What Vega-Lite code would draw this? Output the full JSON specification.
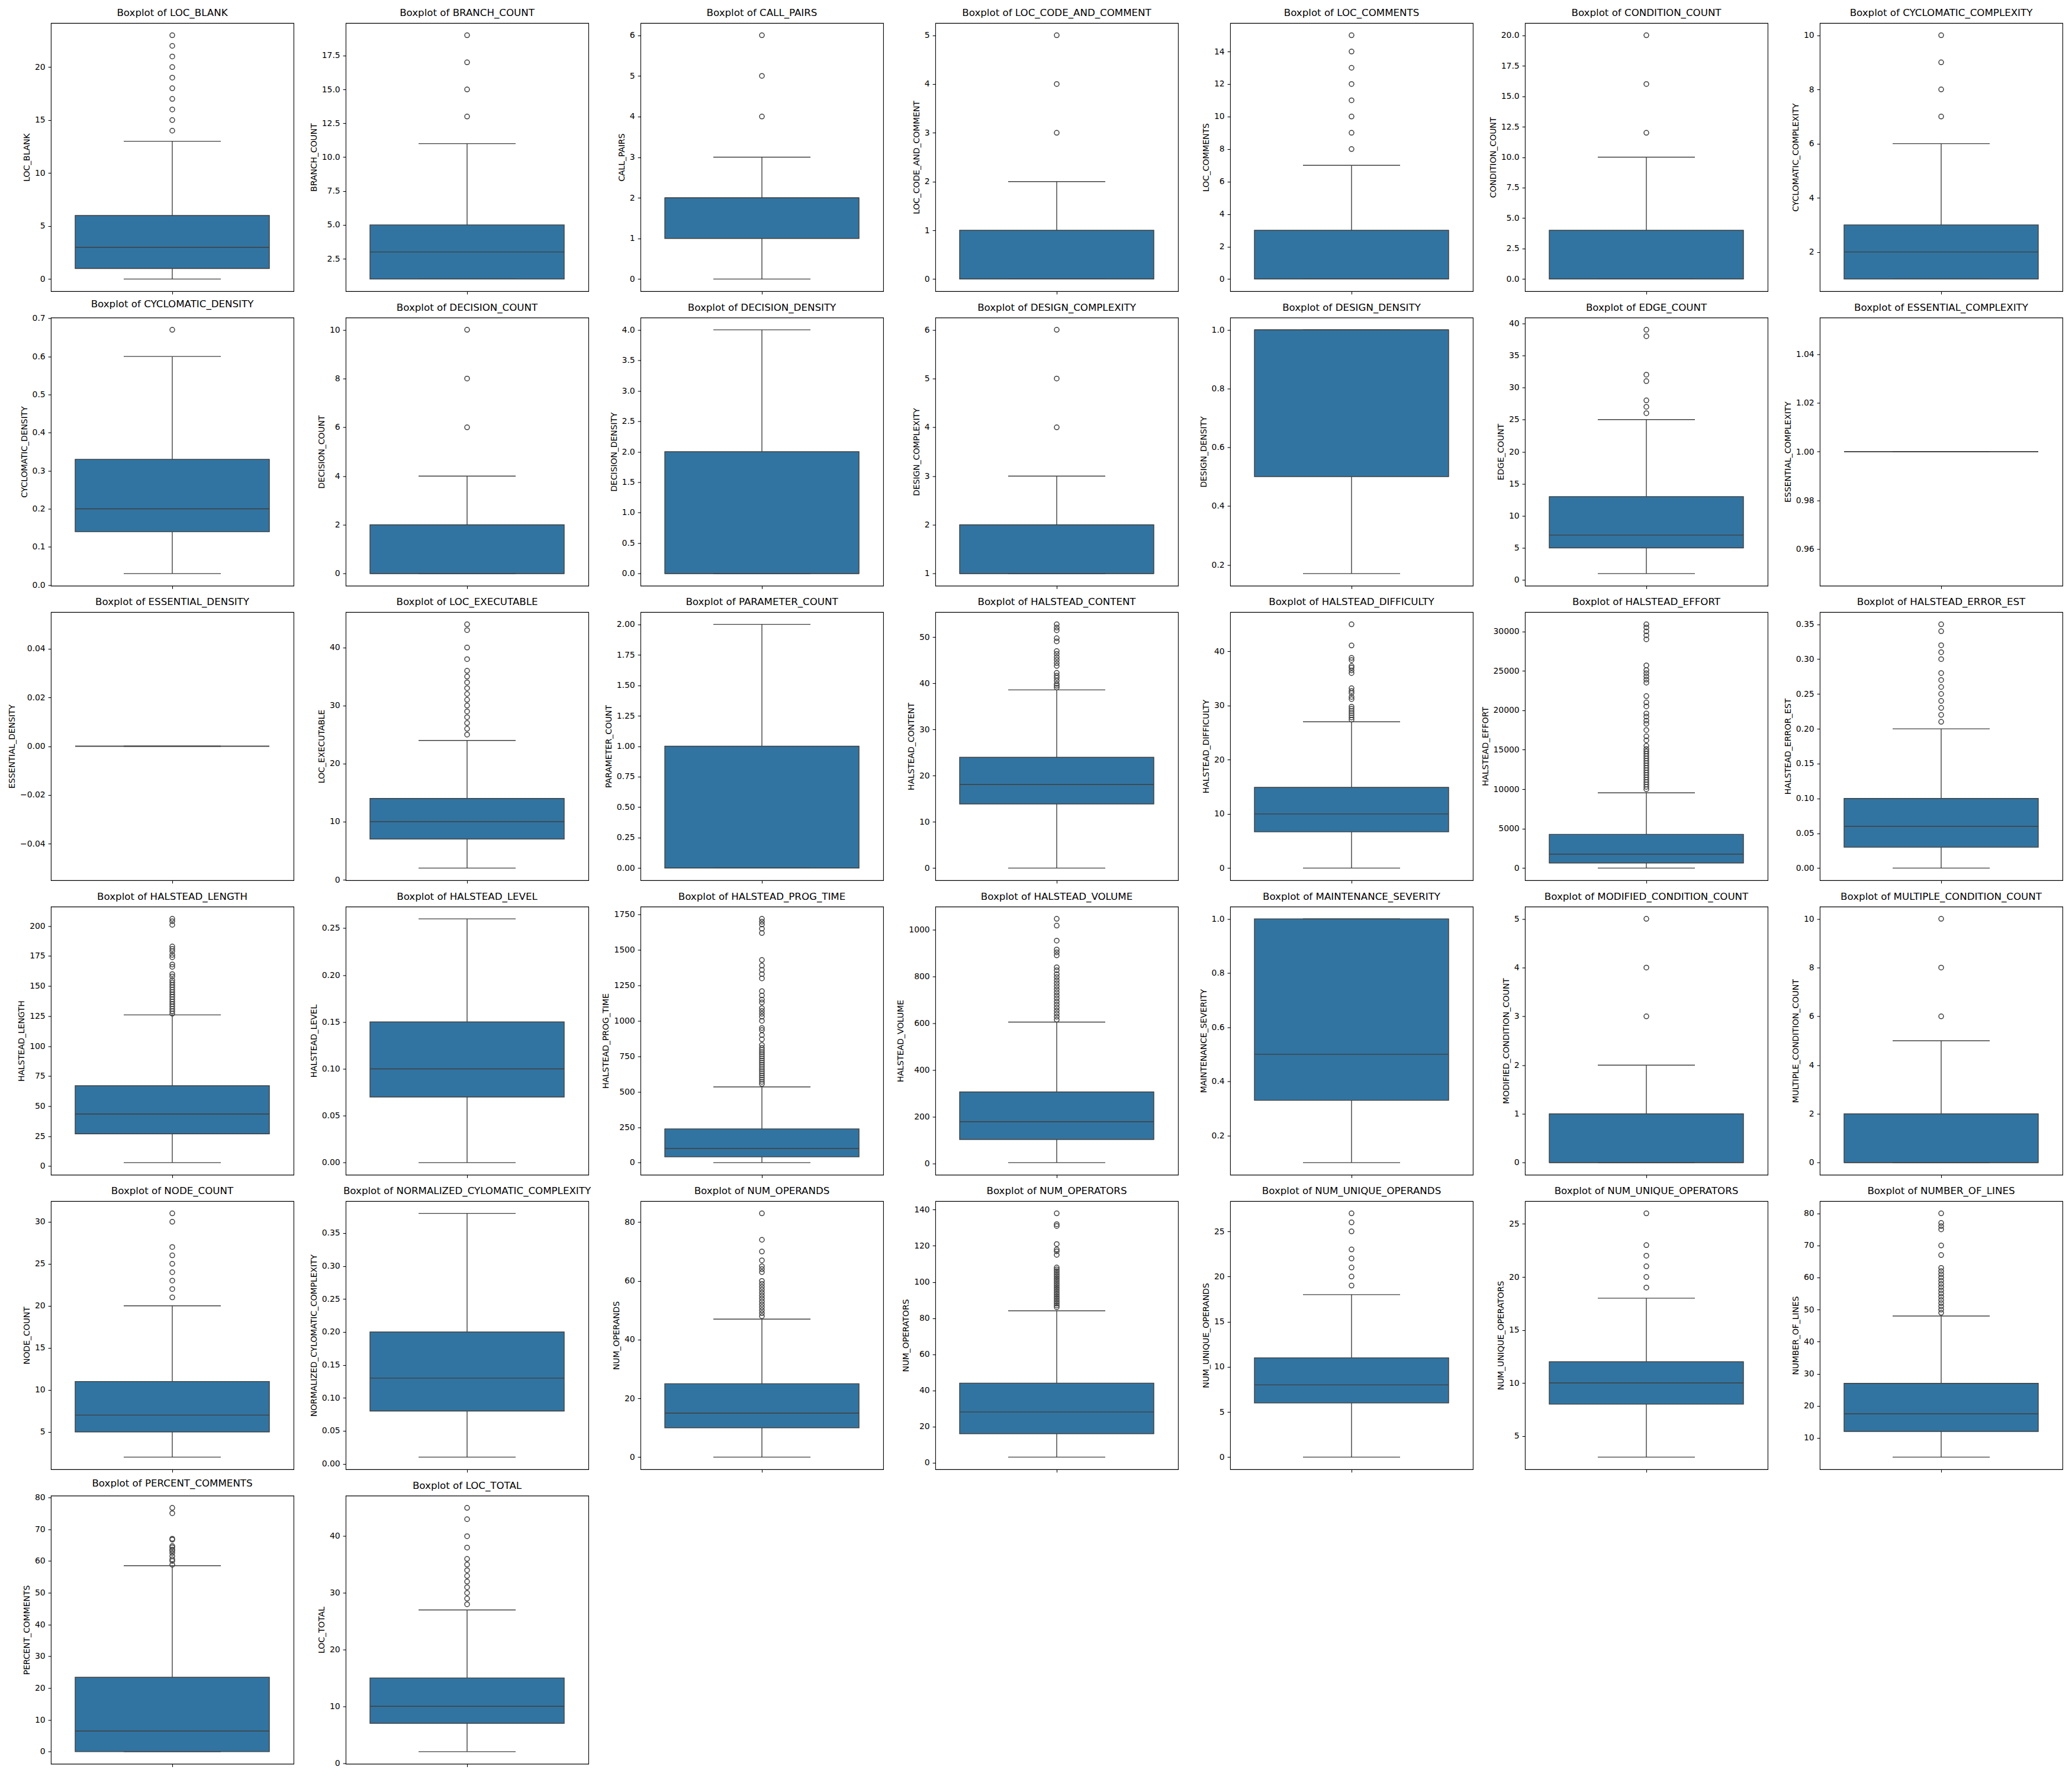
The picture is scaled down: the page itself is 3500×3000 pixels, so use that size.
{
"$schema":"https://vega.github.io/schema/vega-lite/v6.json",
"background":"white",
"padding":{"left":13,"top":13,"right":5,"bottom":5},
"columns":7,
"bounds":"flush",
"spacing":{"row":44.5,"column":88},
"config":{
"font":"DejaVu Sans",
"view":{"stroke":"#000000","strokeWidth":1.1},
"title":{"font":"DejaVu Sans","fontSize":16.67,"fontWeight":"normal","color":"#000000","offset":8,"frame":"group","anchor":"middle"},
"axis":{"labelFont":"DejaVu Sans","labelFontSize":13.9,"labelColor":"#000000","tickColor":"#000000","tickSize":4.9,"tickWidth":1.1,"labelPadding":4.9,"titleFont":"DejaVu Sans","titleFontSize":13.9,"titleFontWeight":"normal","titleColor":"#000000","titlePadding":6,"grid":false,"domain":false,"labelFlush":false,"labelOverlap":false},
"scale":{"bandPaddingInner":0,"bandPaddingOuter":0},
"mark":{"opacity":1},
"rule":{"color":"#3f3f3f","strokeWidth":1.4},
"bar":{"color":"#3274a1","stroke":"#3f3f3f","strokeWidth":1.4},
"tick":{"color":"#3f3f3f","thickness":1.4,"opacity":1},
"point":{"filled":false,"shape":"circle","size":64,"strokeWidth":1.5,"color":"#3f3f3f","opacity":1}
},
"datasets":{
"s":[
{"v":"LOC_BLANK","lo":0,"q1":1,"med":3,"q3":6,"hi":13},
{"v":"BRANCH_COUNT","lo":1,"q1":1,"med":3,"q3":5,"hi":11},
{"v":"CALL_PAIRS","lo":0,"q1":1,"med":2,"q3":2,"hi":3},
{"v":"LOC_CODE_AND_COMMENT","lo":0,"q1":0,"med":0,"q3":1,"hi":2},
{"v":"LOC_COMMENTS","lo":0,"q1":0,"med":0,"q3":3,"hi":7},
{"v":"CONDITION_COUNT","lo":0,"q1":0,"med":0,"q3":4,"hi":10},
{"v":"CYCLOMATIC_COMPLEXITY","lo":1,"q1":1,"med":2,"q3":3,"hi":6},
{"v":"CYCLOMATIC_DENSITY","lo":0.03,"q1":0.14,"med":0.2,"q3":0.33,"hi":0.6},
{"v":"DECISION_COUNT","lo":0,"q1":0,"med":0,"q3":2,"hi":4},
{"v":"DECISION_DENSITY","lo":0,"q1":0,"med":0,"q3":2,"hi":4},
{"v":"DESIGN_COMPLEXITY","lo":1,"q1":1,"med":1,"q3":2,"hi":3},
{"v":"DESIGN_DENSITY","lo":0.17,"q1":0.5,"med":1,"q3":1,"hi":1},
{"v":"EDGE_COUNT","lo":1,"q1":5,"med":7,"q3":13,"hi":25},
{"v":"ESSENTIAL_COMPLEXITY","lo":1,"q1":1,"med":1,"q3":1,"hi":1},
{"v":"ESSENTIAL_DENSITY","lo":0,"q1":0,"med":0,"q3":0,"hi":0},
{"v":"LOC_EXECUTABLE","lo":2,"q1":7,"med":10,"q3":14,"hi":24},
{"v":"PARAMETER_COUNT","lo":0,"q1":0,"med":0,"q3":1,"hi":2},
{"v":"HALSTEAD_CONTENT","lo":0,"q1":13.9,"med":18.1,"q3":24,"hi":38.6},
{"v":"HALSTEAD_DIFFICULTY","lo":0,"q1":6.7,"med":10,"q3":14.9,"hi":27},
{"v":"HALSTEAD_EFFORT","lo":0,"q1":650,"med":1780,"q3":4280,"hi":9540},
{"v":"HALSTEAD_ERROR_EST","lo":0,"q1":0.03,"med":0.06,"q3":0.1,"hi":0.2},
{"v":"HALSTEAD_LENGTH","lo":3,"q1":27,"med":43.5,"q3":67,"hi":126},
{"v":"HALSTEAD_LEVEL","lo":0,"q1":0.07,"med":0.1,"q3":0.15,"hi":0.26},
{"v":"HALSTEAD_PROG_TIME","lo":0,"q1":41,"med":100,"q3":238,"hi":534},
{"v":"HALSTEAD_VOLUME","lo":5,"q1":104,"med":180,"q3":307,"hi":605},
{"v":"MAINTENANCE_SEVERITY","lo":0.1,"q1":0.33,"med":0.5,"q3":1,"hi":1},
{"v":"MODIFIED_CONDITION_COUNT","lo":0,"q1":0,"med":0,"q3":1,"hi":2},
{"v":"MULTIPLE_CONDITION_COUNT","lo":0,"q1":0,"med":0,"q3":2,"hi":5},
{"v":"NODE_COUNT","lo":2,"q1":5,"med":7,"q3":11,"hi":20},
{"v":"NORMALIZED_CYLOMATIC_COMPLEXITY","lo":0.01,"q1":0.08,"med":0.13,"q3":0.2,"hi":0.38},
{"v":"NUM_OPERANDS","lo":0,"q1":10,"med":15,"q3":25,"hi":47},
{"v":"NUM_OPERATORS","lo":3,"q1":16,"med":28,"q3":44,"hi":84},
{"v":"NUM_UNIQUE_OPERANDS","lo":0,"q1":6,"med":8,"q3":11,"hi":18},
{"v":"NUM_UNIQUE_OPERATORS","lo":3,"q1":8,"med":10,"q3":12,"hi":18},
{"v":"NUMBER_OF_LINES","lo":4,"q1":12,"med":17.5,"q3":27,"hi":48},
{"v":"PERCENT_COMMENTS","lo":0,"q1":0,"med":6.5,"q3":23.4,"hi":58.5},
{"v":"LOC_TOTAL","lo":2,"q1":7,"med":10,"q3":15,"hi":27}
],
"o":[
{"v":"LOC_BLANK","o":14},{"v":"LOC_BLANK","o":15},{"v":"LOC_BLANK","o":16},{"v":"LOC_BLANK","o":17},{"v":"LOC_BLANK","o":18},{"v":"LOC_BLANK","o":19},{"v":"LOC_BLANK","o":20},{"v":"LOC_BLANK","o":21},{"v":"LOC_BLANK","o":22},{"v":"LOC_BLANK","o":23},
{"v":"BRANCH_COUNT","o":13},{"v":"BRANCH_COUNT","o":15},{"v":"BRANCH_COUNT","o":17},{"v":"BRANCH_COUNT","o":19},
{"v":"CALL_PAIRS","o":4},{"v":"CALL_PAIRS","o":5},{"v":"CALL_PAIRS","o":6},
{"v":"LOC_CODE_AND_COMMENT","o":3},{"v":"LOC_CODE_AND_COMMENT","o":4},{"v":"LOC_CODE_AND_COMMENT","o":5},
{"v":"LOC_COMMENTS","o":8},{"v":"LOC_COMMENTS","o":9},{"v":"LOC_COMMENTS","o":10},{"v":"LOC_COMMENTS","o":11},{"v":"LOC_COMMENTS","o":12},{"v":"LOC_COMMENTS","o":13},{"v":"LOC_COMMENTS","o":14},{"v":"LOC_COMMENTS","o":15},
{"v":"CONDITION_COUNT","o":12},{"v":"CONDITION_COUNT","o":16},{"v":"CONDITION_COUNT","o":20},
{"v":"CYCLOMATIC_COMPLEXITY","o":7},{"v":"CYCLOMATIC_COMPLEXITY","o":8},{"v":"CYCLOMATIC_COMPLEXITY","o":9},{"v":"CYCLOMATIC_COMPLEXITY","o":10},
{"v":"CYCLOMATIC_DENSITY","o":0.67},
{"v":"DECISION_COUNT","o":6},{"v":"DECISION_COUNT","o":8},{"v":"DECISION_COUNT","o":10},
{"v":"DESIGN_COMPLEXITY","o":4},{"v":"DESIGN_COMPLEXITY","o":5},{"v":"DESIGN_COMPLEXITY","o":6},
{"v":"EDGE_COUNT","o":26},{"v":"EDGE_COUNT","o":27},{"v":"EDGE_COUNT","o":28},{"v":"EDGE_COUNT","o":31},{"v":"EDGE_COUNT","o":32},{"v":"EDGE_COUNT","o":38},{"v":"EDGE_COUNT","o":39},
{"v":"LOC_EXECUTABLE","o":25},{"v":"LOC_EXECUTABLE","o":26},{"v":"LOC_EXECUTABLE","o":27},{"v":"LOC_EXECUTABLE","o":28},{"v":"LOC_EXECUTABLE","o":29},{"v":"LOC_EXECUTABLE","o":30},{"v":"LOC_EXECUTABLE","o":31},{"v":"LOC_EXECUTABLE","o":32},{"v":"LOC_EXECUTABLE","o":33},{"v":"LOC_EXECUTABLE","o":34},{"v":"LOC_EXECUTABLE","o":35},{"v":"LOC_EXECUTABLE","o":36},{"v":"LOC_EXECUTABLE","o":38},{"v":"LOC_EXECUTABLE","o":40},{"v":"LOC_EXECUTABLE","o":43},{"v":"LOC_EXECUTABLE","o":44},
{"v":"HALSTEAD_CONTENT","o":39.1},{"v":"HALSTEAD_CONTENT","o":39.5},{"v":"HALSTEAD_CONTENT","o":39.9},{"v":"HALSTEAD_CONTENT","o":40.6},{"v":"HALSTEAD_CONTENT","o":41.2},{"v":"HALSTEAD_CONTENT","o":41.7},{"v":"HALSTEAD_CONTENT","o":42.3},{"v":"HALSTEAD_CONTENT","o":43.8},{"v":"HALSTEAD_CONTENT","o":44.4},{"v":"HALSTEAD_CONTENT","o":45.1},{"v":"HALSTEAD_CONTENT","o":45.7},{"v":"HALSTEAD_CONTENT","o":46.4},{"v":"HALSTEAD_CONTENT","o":47.0},{"v":"HALSTEAD_CONTENT","o":49.1},{"v":"HALSTEAD_CONTENT","o":49.8},{"v":"HALSTEAD_CONTENT","o":51.5},{"v":"HALSTEAD_CONTENT","o":52.1},{"v":"HALSTEAD_CONTENT","o":52.8},
{"v":"HALSTEAD_DIFFICULTY","o":27.4},{"v":"HALSTEAD_DIFFICULTY","o":27.8},{"v":"HALSTEAD_DIFFICULTY","o":28.2},{"v":"HALSTEAD_DIFFICULTY","o":28.6},{"v":"HALSTEAD_DIFFICULTY","o":29.0},{"v":"HALSTEAD_DIFFICULTY","o":29.4},{"v":"HALSTEAD_DIFFICULTY","o":29.8},{"v":"HALSTEAD_DIFFICULTY","o":31.2},{"v":"HALSTEAD_DIFFICULTY","o":31.6},{"v":"HALSTEAD_DIFFICULTY","o":32.3},{"v":"HALSTEAD_DIFFICULTY","o":32.7},{"v":"HALSTEAD_DIFFICULTY","o":33.2},{"v":"HALSTEAD_DIFFICULTY","o":36.0},{"v":"HALSTEAD_DIFFICULTY","o":36.5},{"v":"HALSTEAD_DIFFICULTY","o":37.0},{"v":"HALSTEAD_DIFFICULTY","o":37.3},{"v":"HALSTEAD_DIFFICULTY","o":38.4},{"v":"HALSTEAD_DIFFICULTY","o":38.8},{"v":"HALSTEAD_DIFFICULTY","o":41.1},{"v":"HALSTEAD_DIFFICULTY","o":45.0},
{"v":"HALSTEAD_EFFORT","o":10000},{"v":"HALSTEAD_EFFORT","o":10300},{"v":"HALSTEAD_EFFORT","o":10600},{"v":"HALSTEAD_EFFORT","o":10900},{"v":"HALSTEAD_EFFORT","o":11200},{"v":"HALSTEAD_EFFORT","o":11500},{"v":"HALSTEAD_EFFORT","o":11800},{"v":"HALSTEAD_EFFORT","o":12100},{"v":"HALSTEAD_EFFORT","o":12400},{"v":"HALSTEAD_EFFORT","o":12700},{"v":"HALSTEAD_EFFORT","o":13000},{"v":"HALSTEAD_EFFORT","o":13300},{"v":"HALSTEAD_EFFORT","o":13600},{"v":"HALSTEAD_EFFORT","o":13900},{"v":"HALSTEAD_EFFORT","o":14200},{"v":"HALSTEAD_EFFORT","o":14500},{"v":"HALSTEAD_EFFORT","o":14800},{"v":"HALSTEAD_EFFORT","o":15100},{"v":"HALSTEAD_EFFORT","o":15500},{"v":"HALSTEAD_EFFORT","o":16200},{"v":"HALSTEAD_EFFORT","o":16700},{"v":"HALSTEAD_EFFORT","o":17500},{"v":"HALSTEAD_EFFORT","o":18300},{"v":"HALSTEAD_EFFORT","o":18700},{"v":"HALSTEAD_EFFORT","o":19200},{"v":"HALSTEAD_EFFORT","o":19600},{"v":"HALSTEAD_EFFORT","o":20500},{"v":"HALSTEAD_EFFORT","o":21000},{"v":"HALSTEAD_EFFORT","o":21800},{"v":"HALSTEAD_EFFORT","o":23500},{"v":"HALSTEAD_EFFORT","o":23900},{"v":"HALSTEAD_EFFORT","o":24300},{"v":"HALSTEAD_EFFORT","o":24700},{"v":"HALSTEAD_EFFORT","o":25100},{"v":"HALSTEAD_EFFORT","o":25700},{"v":"HALSTEAD_EFFORT","o":29000},{"v":"HALSTEAD_EFFORT","o":29500},{"v":"HALSTEAD_EFFORT","o":30000},{"v":"HALSTEAD_EFFORT","o":30500},{"v":"HALSTEAD_EFFORT","o":30900},
{"v":"HALSTEAD_ERROR_EST","o":0.21},{"v":"HALSTEAD_ERROR_EST","o":0.22},{"v":"HALSTEAD_ERROR_EST","o":0.23},{"v":"HALSTEAD_ERROR_EST","o":0.24},{"v":"HALSTEAD_ERROR_EST","o":0.25},{"v":"HALSTEAD_ERROR_EST","o":0.26},{"v":"HALSTEAD_ERROR_EST","o":0.27},{"v":"HALSTEAD_ERROR_EST","o":0.28},{"v":"HALSTEAD_ERROR_EST","o":0.3},{"v":"HALSTEAD_ERROR_EST","o":0.31},{"v":"HALSTEAD_ERROR_EST","o":0.32},{"v":"HALSTEAD_ERROR_EST","o":0.34},{"v":"HALSTEAD_ERROR_EST","o":0.35},
{"v":"HALSTEAD_LENGTH","o":127},{"v":"HALSTEAD_LENGTH","o":129},{"v":"HALSTEAD_LENGTH","o":131},{"v":"HALSTEAD_LENGTH","o":133},{"v":"HALSTEAD_LENGTH","o":135},{"v":"HALSTEAD_LENGTH","o":137},{"v":"HALSTEAD_LENGTH","o":139},{"v":"HALSTEAD_LENGTH","o":141},{"v":"HALSTEAD_LENGTH","o":143},{"v":"HALSTEAD_LENGTH","o":145},{"v":"HALSTEAD_LENGTH","o":147},{"v":"HALSTEAD_LENGTH","o":149},{"v":"HALSTEAD_LENGTH","o":151},{"v":"HALSTEAD_LENGTH","o":153},{"v":"HALSTEAD_LENGTH","o":155},{"v":"HALSTEAD_LENGTH","o":158},{"v":"HALSTEAD_LENGTH","o":160},{"v":"HALSTEAD_LENGTH","o":166},{"v":"HALSTEAD_LENGTH","o":168},{"v":"HALSTEAD_LENGTH","o":174},{"v":"HALSTEAD_LENGTH","o":176},{"v":"HALSTEAD_LENGTH","o":179},{"v":"HALSTEAD_LENGTH","o":181},{"v":"HALSTEAD_LENGTH","o":183},{"v":"HALSTEAD_LENGTH","o":201},{"v":"HALSTEAD_LENGTH","o":204},{"v":"HALSTEAD_LENGTH","o":206},
{"v":"HALSTEAD_PROG_TIME","o":555},{"v":"HALSTEAD_PROG_TIME","o":570},{"v":"HALSTEAD_PROG_TIME","o":585},{"v":"HALSTEAD_PROG_TIME","o":600},{"v":"HALSTEAD_PROG_TIME","o":615},{"v":"HALSTEAD_PROG_TIME","o":630},{"v":"HALSTEAD_PROG_TIME","o":645},{"v":"HALSTEAD_PROG_TIME","o":660},{"v":"HALSTEAD_PROG_TIME","o":675},{"v":"HALSTEAD_PROG_TIME","o":690},{"v":"HALSTEAD_PROG_TIME","o":705},{"v":"HALSTEAD_PROG_TIME","o":720},{"v":"HALSTEAD_PROG_TIME","o":735},{"v":"HALSTEAD_PROG_TIME","o":750},{"v":"HALSTEAD_PROG_TIME","o":765},{"v":"HALSTEAD_PROG_TIME","o":780},{"v":"HALSTEAD_PROG_TIME","o":795},{"v":"HALSTEAD_PROG_TIME","o":810},{"v":"HALSTEAD_PROG_TIME","o":830},{"v":"HALSTEAD_PROG_TIME","o":870},{"v":"HALSTEAD_PROG_TIME","o":900},{"v":"HALSTEAD_PROG_TIME","o":935},{"v":"HALSTEAD_PROG_TIME","o":950},{"v":"HALSTEAD_PROG_TIME","o":1000},{"v":"HALSTEAD_PROG_TIME","o":1030},{"v":"HALSTEAD_PROG_TIME","o":1050},{"v":"HALSTEAD_PROG_TIME","o":1070},{"v":"HALSTEAD_PROG_TIME","o":1090},{"v":"HALSTEAD_PROG_TIME","o":1130},{"v":"HALSTEAD_PROG_TIME","o":1150},{"v":"HALSTEAD_PROG_TIME","o":1180},{"v":"HALSTEAD_PROG_TIME","o":1210},{"v":"HALSTEAD_PROG_TIME","o":1300},{"v":"HALSTEAD_PROG_TIME","o":1330},{"v":"HALSTEAD_PROG_TIME","o":1360},{"v":"HALSTEAD_PROG_TIME","o":1390},{"v":"HALSTEAD_PROG_TIME","o":1430},{"v":"HALSTEAD_PROG_TIME","o":1620},{"v":"HALSTEAD_PROG_TIME","o":1650},{"v":"HALSTEAD_PROG_TIME","o":1680},{"v":"HALSTEAD_PROG_TIME","o":1700},{"v":"HALSTEAD_PROG_TIME","o":1720},
{"v":"HALSTEAD_VOLUME","o":615},{"v":"HALSTEAD_VOLUME","o":628},{"v":"HALSTEAD_VOLUME","o":641},{"v":"HALSTEAD_VOLUME","o":654},{"v":"HALSTEAD_VOLUME","o":667},{"v":"HALSTEAD_VOLUME","o":680},{"v":"HALSTEAD_VOLUME","o":693},{"v":"HALSTEAD_VOLUME","o":706},{"v":"HALSTEAD_VOLUME","o":719},{"v":"HALSTEAD_VOLUME","o":732},{"v":"HALSTEAD_VOLUME","o":745},{"v":"HALSTEAD_VOLUME","o":758},{"v":"HALSTEAD_VOLUME","o":771},{"v":"HALSTEAD_VOLUME","o":784},{"v":"HALSTEAD_VOLUME","o":797},{"v":"HALSTEAD_VOLUME","o":810},{"v":"HALSTEAD_VOLUME","o":826},{"v":"HALSTEAD_VOLUME","o":839},{"v":"HALSTEAD_VOLUME","o":890},{"v":"HALSTEAD_VOLUME","o":903},{"v":"HALSTEAD_VOLUME","o":915},{"v":"HALSTEAD_VOLUME","o":953},{"v":"HALSTEAD_VOLUME","o":1017},{"v":"HALSTEAD_VOLUME","o":1046},
{"v":"MODIFIED_CONDITION_COUNT","o":3},{"v":"MODIFIED_CONDITION_COUNT","o":4},{"v":"MODIFIED_CONDITION_COUNT","o":5},
{"v":"MULTIPLE_CONDITION_COUNT","o":6},{"v":"MULTIPLE_CONDITION_COUNT","o":8},{"v":"MULTIPLE_CONDITION_COUNT","o":10},
{"v":"NODE_COUNT","o":21},{"v":"NODE_COUNT","o":22},{"v":"NODE_COUNT","o":23},{"v":"NODE_COUNT","o":24},{"v":"NODE_COUNT","o":25},{"v":"NODE_COUNT","o":26},{"v":"NODE_COUNT","o":27},{"v":"NODE_COUNT","o":30},{"v":"NODE_COUNT","o":31},
{"v":"NUM_OPERANDS","o":48},{"v":"NUM_OPERANDS","o":49},{"v":"NUM_OPERANDS","o":50},{"v":"NUM_OPERANDS","o":51},{"v":"NUM_OPERANDS","o":52},{"v":"NUM_OPERANDS","o":53},{"v":"NUM_OPERANDS","o":54},{"v":"NUM_OPERANDS","o":55},{"v":"NUM_OPERANDS","o":56},{"v":"NUM_OPERANDS","o":57},{"v":"NUM_OPERANDS","o":58},{"v":"NUM_OPERANDS","o":59},{"v":"NUM_OPERANDS","o":60},{"v":"NUM_OPERANDS","o":63},{"v":"NUM_OPERANDS","o":64},{"v":"NUM_OPERANDS","o":65},{"v":"NUM_OPERANDS","o":67},{"v":"NUM_OPERANDS","o":70},{"v":"NUM_OPERANDS","o":74},{"v":"NUM_OPERANDS","o":83},
{"v":"NUM_OPERATORS","o":86},{"v":"NUM_OPERATORS","o":87},{"v":"NUM_OPERATORS","o":88},{"v":"NUM_OPERATORS","o":89},{"v":"NUM_OPERATORS","o":90},{"v":"NUM_OPERATORS","o":91},{"v":"NUM_OPERATORS","o":92},{"v":"NUM_OPERATORS","o":93},{"v":"NUM_OPERATORS","o":94},{"v":"NUM_OPERATORS","o":95},{"v":"NUM_OPERATORS","o":96},{"v":"NUM_OPERATORS","o":97},{"v":"NUM_OPERATORS","o":98},{"v":"NUM_OPERATORS","o":99},{"v":"NUM_OPERATORS","o":100},{"v":"NUM_OPERATORS","o":101},{"v":"NUM_OPERATORS","o":102},{"v":"NUM_OPERATORS","o":103},{"v":"NUM_OPERATORS","o":104},{"v":"NUM_OPERATORS","o":105},{"v":"NUM_OPERATORS","o":106},{"v":"NUM_OPERATORS","o":107},{"v":"NUM_OPERATORS","o":108},{"v":"NUM_OPERATORS","o":115},{"v":"NUM_OPERATORS","o":117},{"v":"NUM_OPERATORS","o":118},{"v":"NUM_OPERATORS","o":121},{"v":"NUM_OPERATORS","o":131},{"v":"NUM_OPERATORS","o":132},{"v":"NUM_OPERATORS","o":138},
{"v":"NUM_UNIQUE_OPERANDS","o":19},{"v":"NUM_UNIQUE_OPERANDS","o":20},{"v":"NUM_UNIQUE_OPERANDS","o":21},{"v":"NUM_UNIQUE_OPERANDS","o":22},{"v":"NUM_UNIQUE_OPERANDS","o":23},{"v":"NUM_UNIQUE_OPERANDS","o":25},{"v":"NUM_UNIQUE_OPERANDS","o":26},{"v":"NUM_UNIQUE_OPERANDS","o":27},
{"v":"NUM_UNIQUE_OPERATORS","o":19},{"v":"NUM_UNIQUE_OPERATORS","o":20},{"v":"NUM_UNIQUE_OPERATORS","o":21},{"v":"NUM_UNIQUE_OPERATORS","o":22},{"v":"NUM_UNIQUE_OPERATORS","o":23},{"v":"NUM_UNIQUE_OPERATORS","o":26},
{"v":"NUMBER_OF_LINES","o":49},{"v":"NUMBER_OF_LINES","o":50},{"v":"NUMBER_OF_LINES","o":51},{"v":"NUMBER_OF_LINES","o":52},{"v":"NUMBER_OF_LINES","o":53},{"v":"NUMBER_OF_LINES","o":54},{"v":"NUMBER_OF_LINES","o":55},{"v":"NUMBER_OF_LINES","o":56},{"v":"NUMBER_OF_LINES","o":57},{"v":"NUMBER_OF_LINES","o":58},{"v":"NUMBER_OF_LINES","o":59},{"v":"NUMBER_OF_LINES","o":60},{"v":"NUMBER_OF_LINES","o":61},{"v":"NUMBER_OF_LINES","o":62},{"v":"NUMBER_OF_LINES","o":63},{"v":"NUMBER_OF_LINES","o":67},{"v":"NUMBER_OF_LINES","o":70},{"v":"NUMBER_OF_LINES","o":75},{"v":"NUMBER_OF_LINES","o":76},{"v":"NUMBER_OF_LINES","o":77},{"v":"NUMBER_OF_LINES","o":80},
{"v":"PERCENT_COMMENTS","o":58.8},{"v":"PERCENT_COMMENTS","o":60},{"v":"PERCENT_COMMENTS","o":60.5},{"v":"PERCENT_COMMENTS","o":61.5},{"v":"PERCENT_COMMENTS","o":62.5},{"v":"PERCENT_COMMENTS","o":63.2},{"v":"PERCENT_COMMENTS","o":63.6},{"v":"PERCENT_COMMENTS","o":64.3},{"v":"PERCENT_COMMENTS","o":64.7},{"v":"PERCENT_COMMENTS","o":66.7},{"v":"PERCENT_COMMENTS","o":67},{"v":"PERCENT_COMMENTS","o":75},{"v":"PERCENT_COMMENTS","o":76.7},
{"v":"LOC_TOTAL","o":28},{"v":"LOC_TOTAL","o":29},{"v":"LOC_TOTAL","o":30},{"v":"LOC_TOTAL","o":31},{"v":"LOC_TOTAL","o":32},{"v":"LOC_TOTAL","o":33},{"v":"LOC_TOTAL","o":34},{"v":"LOC_TOTAL","o":35},{"v":"LOC_TOTAL","o":36},{"v":"LOC_TOTAL","o":38},{"v":"LOC_TOTAL","o":40},{"v":"LOC_TOTAL","o":43},{"v":"LOC_TOTAL","o":45}
]
},
"concat":[
{"title":"Boxplot of LOC_BLANK","width":410,"height":453,"data":{"name":"s"},"transform":[{"filter":"datum.v==='LOC_BLANK'"}],"encoding":{"x":{"field":"v","type":"nominal","title":null,"axis":{"labels":false,"bandPosition":0.5}}},"layer":[
{"mark":"rule","encoding":{"y":{"field":"lo","type":"quantitative","title":"LOC_BLANK","scale":{"domain":[-1.15,24.15],"nice":false,"zero":false},"axis":{"values":[0,5,10,15,20],"format":"d"}},"y2":{"field":"hi"}}},
{"mark":{"type":"bar","width":{"band":0.8}},"encoding":{"y":{"field":"q1","type":"quantitative"},"y2":{"field":"q3"}}},
{"mark":{"type":"tick","size":164},"encoding":{"y":{"field":"lo","type":"quantitative"}}},
{"mark":{"type":"tick","size":164},"encoding":{"y":{"field":"hi","type":"quantitative"}}},
{"mark":{"type":"tick","size":328},"encoding":{"y":{"field":"med","type":"quantitative"}}},
{"data":{"name":"o"},"transform":[{"filter":"datum.v==='LOC_BLANK'"}],"mark":"point","encoding":{"y":{"field":"o","type":"quantitative"}}}]},
{"title":"Boxplot of BRANCH_COUNT","width":410,"height":453,"data":{"name":"s"},"transform":[{"filter":"datum.v==='BRANCH_COUNT'"}],"encoding":{"x":{"field":"v","type":"nominal","title":null,"axis":{"labels":false,"bandPosition":0.5}}},"layer":[
{"mark":"rule","encoding":{"y":{"field":"lo","type":"quantitative","title":"BRANCH_COUNT","scale":{"domain":[0.1,19.9],"nice":false,"zero":false},"axis":{"values":[2.5,5,7.5,10,12.5,15,17.5],"format":".1f"}},"y2":{"field":"hi"}}},
{"mark":{"type":"bar","width":{"band":0.8}},"encoding":{"y":{"field":"q1","type":"quantitative"},"y2":{"field":"q3"}}},
{"mark":{"type":"tick","size":164},"encoding":{"y":{"field":"lo","type":"quantitative"}}},
{"mark":{"type":"tick","size":164},"encoding":{"y":{"field":"hi","type":"quantitative"}}},
{"mark":{"type":"tick","size":328},"encoding":{"y":{"field":"med","type":"quantitative"}}},
{"data":{"name":"o"},"transform":[{"filter":"datum.v==='BRANCH_COUNT'"}],"mark":"point","encoding":{"y":{"field":"o","type":"quantitative"}}}]},
{"title":"Boxplot of CALL_PAIRS","width":410,"height":453,"data":{"name":"s"},"transform":[{"filter":"datum.v==='CALL_PAIRS'"}],"encoding":{"x":{"field":"v","type":"nominal","title":null,"axis":{"labels":false,"bandPosition":0.5}}},"layer":[
{"mark":"rule","encoding":{"y":{"field":"lo","type":"quantitative","title":"CALL_PAIRS","scale":{"domain":[-0.3,6.3],"nice":false,"zero":false},"axis":{"values":[0,1,2,3,4,5,6],"format":"d"}},"y2":{"field":"hi"}}},
{"mark":{"type":"bar","width":{"band":0.8}},"encoding":{"y":{"field":"q1","type":"quantitative"},"y2":{"field":"q3"}}},
{"mark":{"type":"tick","size":164},"encoding":{"y":{"field":"lo","type":"quantitative"}}},
{"mark":{"type":"tick","size":164},"encoding":{"y":{"field":"hi","type":"quantitative"}}},
{"mark":{"type":"tick","size":328},"encoding":{"y":{"field":"med","type":"quantitative"}}},
{"data":{"name":"o"},"transform":[{"filter":"datum.v==='CALL_PAIRS'"}],"mark":"point","encoding":{"y":{"field":"o","type":"quantitative"}}}]},
{"title":"Boxplot of LOC_CODE_AND_COMMENT","width":410,"height":453,"data":{"name":"s"},"transform":[{"filter":"datum.v==='LOC_CODE_AND_COMMENT'"}],"encoding":{"x":{"field":"v","type":"nominal","title":null,"axis":{"labels":false,"bandPosition":0.5}}},"layer":[
{"mark":"rule","encoding":{"y":{"field":"lo","type":"quantitative","title":"LOC_CODE_AND_COMMENT","scale":{"domain":[-0.25,5.25],"nice":false,"zero":false},"axis":{"values":[0,1,2,3,4,5],"format":"d"}},"y2":{"field":"hi"}}},
{"mark":{"type":"bar","width":{"band":0.8}},"encoding":{"y":{"field":"q1","type":"quantitative"},"y2":{"field":"q3"}}},
{"mark":{"type":"tick","size":164},"encoding":{"y":{"field":"lo","type":"quantitative"}}},
{"mark":{"type":"tick","size":164},"encoding":{"y":{"field":"hi","type":"quantitative"}}},
{"mark":{"type":"tick","size":328},"encoding":{"y":{"field":"med","type":"quantitative"}}},
{"data":{"name":"o"},"transform":[{"filter":"datum.v==='LOC_CODE_AND_COMMENT'"}],"mark":"point","encoding":{"y":{"field":"o","type":"quantitative"}}}]},
{"title":"Boxplot of LOC_COMMENTS","width":410,"height":453,"data":{"name":"s"},"transform":[{"filter":"datum.v==='LOC_COMMENTS'"}],"encoding":{"x":{"field":"v","type":"nominal","title":null,"axis":{"labels":false,"bandPosition":0.5}}},"layer":[
{"mark":"rule","encoding":{"y":{"field":"lo","type":"quantitative","title":"LOC_COMMENTS","scale":{"domain":[-0.75,15.75],"nice":false,"zero":false},"axis":{"values":[0,2,4,6,8,10,12,14],"format":"d"}},"y2":{"field":"hi"}}},
{"mark":{"type":"bar","width":{"band":0.8}},"encoding":{"y":{"field":"q1","type":"quantitative"},"y2":{"field":"q3"}}},
{"mark":{"type":"tick","size":164},"encoding":{"y":{"field":"lo","type":"quantitative"}}},
{"mark":{"type":"tick","size":164},"encoding":{"y":{"field":"hi","type":"quantitative"}}},
{"mark":{"type":"tick","size":328},"encoding":{"y":{"field":"med","type":"quantitative"}}},
{"data":{"name":"o"},"transform":[{"filter":"datum.v==='LOC_COMMENTS'"}],"mark":"point","encoding":{"y":{"field":"o","type":"quantitative"}}}]},
{"title":"Boxplot of CONDITION_COUNT","width":410,"height":453,"data":{"name":"s"},"transform":[{"filter":"datum.v==='CONDITION_COUNT'"}],"encoding":{"x":{"field":"v","type":"nominal","title":null,"axis":{"labels":false,"bandPosition":0.5}}},"layer":[
{"mark":"rule","encoding":{"y":{"field":"lo","type":"quantitative","title":"CONDITION_COUNT","scale":{"domain":[-1,21],"nice":false,"zero":false},"axis":{"values":[0,2.5,5,7.5,10,12.5,15,17.5,20],"format":".1f"}},"y2":{"field":"hi"}}},
{"mark":{"type":"bar","width":{"band":0.8}},"encoding":{"y":{"field":"q1","type":"quantitative"},"y2":{"field":"q3"}}},
{"mark":{"type":"tick","size":164},"encoding":{"y":{"field":"lo","type":"quantitative"}}},
{"mark":{"type":"tick","size":164},"encoding":{"y":{"field":"hi","type":"quantitative"}}},
{"mark":{"type":"tick","size":328},"encoding":{"y":{"field":"med","type":"quantitative"}}},
{"data":{"name":"o"},"transform":[{"filter":"datum.v==='CONDITION_COUNT'"}],"mark":"point","encoding":{"y":{"field":"o","type":"quantitative"}}}]},
{"title":"Boxplot of CYCLOMATIC_COMPLEXITY","width":410,"height":453,"data":{"name":"s"},"transform":[{"filter":"datum.v==='CYCLOMATIC_COMPLEXITY'"}],"encoding":{"x":{"field":"v","type":"nominal","title":null,"axis":{"labels":false,"bandPosition":0.5}}},"layer":[
{"mark":"rule","encoding":{"y":{"field":"lo","type":"quantitative","title":"CYCLOMATIC_COMPLEXITY","scale":{"domain":[0.55,10.45],"nice":false,"zero":false},"axis":{"values":[2,4,6,8,10],"format":"d"}},"y2":{"field":"hi"}}},
{"mark":{"type":"bar","width":{"band":0.8}},"encoding":{"y":{"field":"q1","type":"quantitative"},"y2":{"field":"q3"}}},
{"mark":{"type":"tick","size":164},"encoding":{"y":{"field":"lo","type":"quantitative"}}},
{"mark":{"type":"tick","size":164},"encoding":{"y":{"field":"hi","type":"quantitative"}}},
{"mark":{"type":"tick","size":328},"encoding":{"y":{"field":"med","type":"quantitative"}}},
{"data":{"name":"o"},"transform":[{"filter":"datum.v==='CYCLOMATIC_COMPLEXITY'"}],"mark":"point","encoding":{"y":{"field":"o","type":"quantitative"}}}]},
{"title":"Boxplot of CYCLOMATIC_DENSITY","width":410,"height":453,"data":{"name":"s"},"transform":[{"filter":"datum.v==='CYCLOMATIC_DENSITY'"}],"encoding":{"x":{"field":"v","type":"nominal","title":null,"axis":{"labels":false,"bandPosition":0.5}}},"layer":[
{"mark":"rule","encoding":{"y":{"field":"lo","type":"quantitative","title":"CYCLOMATIC_DENSITY","scale":{"domain":[-0.002,0.702],"nice":false,"zero":false},"axis":{"values":[0,0.1,0.2,0.3,0.4,0.5,0.6,0.7],"format":".1f"}},"y2":{"field":"hi"}}},
{"mark":{"type":"bar","width":{"band":0.8}},"encoding":{"y":{"field":"q1","type":"quantitative"},"y2":{"field":"q3"}}},
{"mark":{"type":"tick","size":164},"encoding":{"y":{"field":"lo","type":"quantitative"}}},
{"mark":{"type":"tick","size":164},"encoding":{"y":{"field":"hi","type":"quantitative"}}},
{"mark":{"type":"tick","size":328},"encoding":{"y":{"field":"med","type":"quantitative"}}},
{"data":{"name":"o"},"transform":[{"filter":"datum.v==='CYCLOMATIC_DENSITY'"}],"mark":"point","encoding":{"y":{"field":"o","type":"quantitative"}}}]},
{"title":"Boxplot of DECISION_COUNT","width":410,"height":453,"data":{"name":"s"},"transform":[{"filter":"datum.v==='DECISION_COUNT'"}],"encoding":{"x":{"field":"v","type":"nominal","title":null,"axis":{"labels":false,"bandPosition":0.5}}},"layer":[
{"mark":"rule","encoding":{"y":{"field":"lo","type":"quantitative","title":"DECISION_COUNT","scale":{"domain":[-0.5,10.5],"nice":false,"zero":false},"axis":{"values":[0,2,4,6,8,10],"format":"d"}},"y2":{"field":"hi"}}},
{"mark":{"type":"bar","width":{"band":0.8}},"encoding":{"y":{"field":"q1","type":"quantitative"},"y2":{"field":"q3"}}},
{"mark":{"type":"tick","size":164},"encoding":{"y":{"field":"lo","type":"quantitative"}}},
{"mark":{"type":"tick","size":164},"encoding":{"y":{"field":"hi","type":"quantitative"}}},
{"mark":{"type":"tick","size":328},"encoding":{"y":{"field":"med","type":"quantitative"}}},
{"data":{"name":"o"},"transform":[{"filter":"datum.v==='DECISION_COUNT'"}],"mark":"point","encoding":{"y":{"field":"o","type":"quantitative"}}}]},
{"title":"Boxplot of DECISION_DENSITY","width":410,"height":453,"data":{"name":"s"},"transform":[{"filter":"datum.v==='DECISION_DENSITY'"}],"encoding":{"x":{"field":"v","type":"nominal","title":null,"axis":{"labels":false,"bandPosition":0.5}}},"layer":[
{"mark":"rule","encoding":{"y":{"field":"lo","type":"quantitative","title":"DECISION_DENSITY","scale":{"domain":[-0.2,4.2],"nice":false,"zero":false},"axis":{"values":[0,0.5,1,1.5,2,2.5,3,3.5,4],"format":".1f"}},"y2":{"field":"hi"}}},
{"mark":{"type":"bar","width":{"band":0.8}},"encoding":{"y":{"field":"q1","type":"quantitative"},"y2":{"field":"q3"}}},
{"mark":{"type":"tick","size":164},"encoding":{"y":{"field":"lo","type":"quantitative"}}},
{"mark":{"type":"tick","size":164},"encoding":{"y":{"field":"hi","type":"quantitative"}}},
{"mark":{"type":"tick","size":328},"encoding":{"y":{"field":"med","type":"quantitative"}}}]},
{"title":"Boxplot of DESIGN_COMPLEXITY","width":410,"height":453,"data":{"name":"s"},"transform":[{"filter":"datum.v==='DESIGN_COMPLEXITY'"}],"encoding":{"x":{"field":"v","type":"nominal","title":null,"axis":{"labels":false,"bandPosition":0.5}}},"layer":[
{"mark":"rule","encoding":{"y":{"field":"lo","type":"quantitative","title":"DESIGN_COMPLEXITY","scale":{"domain":[0.75,6.25],"nice":false,"zero":false},"axis":{"values":[1,2,3,4,5,6],"format":"d"}},"y2":{"field":"hi"}}},
{"mark":{"type":"bar","width":{"band":0.8}},"encoding":{"y":{"field":"q1","type":"quantitative"},"y2":{"field":"q3"}}},
{"mark":{"type":"tick","size":164},"encoding":{"y":{"field":"lo","type":"quantitative"}}},
{"mark":{"type":"tick","size":164},"encoding":{"y":{"field":"hi","type":"quantitative"}}},
{"mark":{"type":"tick","size":328},"encoding":{"y":{"field":"med","type":"quantitative"}}},
{"data":{"name":"o"},"transform":[{"filter":"datum.v==='DESIGN_COMPLEXITY'"}],"mark":"point","encoding":{"y":{"field":"o","type":"quantitative"}}}]},
{"title":"Boxplot of DESIGN_DENSITY","width":410,"height":453,"data":{"name":"s"},"transform":[{"filter":"datum.v==='DESIGN_DENSITY'"}],"encoding":{"x":{"field":"v","type":"nominal","title":null,"axis":{"labels":false,"bandPosition":0.5}}},"layer":[
{"mark":"rule","encoding":{"y":{"field":"lo","type":"quantitative","title":"DESIGN_DENSITY","scale":{"domain":[0.1285,1.0415],"nice":false,"zero":false},"axis":{"values":[0.2,0.4,0.6,0.8,1.0],"format":".1f"}},"y2":{"field":"hi"}}},
{"mark":{"type":"bar","width":{"band":0.8}},"encoding":{"y":{"field":"q1","type":"quantitative"},"y2":{"field":"q3"}}},
{"mark":{"type":"tick","size":164},"encoding":{"y":{"field":"lo","type":"quantitative"}}},
{"mark":{"type":"tick","size":164},"encoding":{"y":{"field":"hi","type":"quantitative"}}},
{"mark":{"type":"tick","size":328},"encoding":{"y":{"field":"med","type":"quantitative"}}}]},
{"title":"Boxplot of EDGE_COUNT","width":410,"height":453,"data":{"name":"s"},"transform":[{"filter":"datum.v==='EDGE_COUNT'"}],"encoding":{"x":{"field":"v","type":"nominal","title":null,"axis":{"labels":false,"bandPosition":0.5}}},"layer":[
{"mark":"rule","encoding":{"y":{"field":"lo","type":"quantitative","title":"EDGE_COUNT","scale":{"domain":[-0.9,40.9],"nice":false,"zero":false},"axis":{"values":[0,5,10,15,20,25,30,35,40],"format":"d"}},"y2":{"field":"hi"}}},
{"mark":{"type":"bar","width":{"band":0.8}},"encoding":{"y":{"field":"q1","type":"quantitative"},"y2":{"field":"q3"}}},
{"mark":{"type":"tick","size":164},"encoding":{"y":{"field":"lo","type":"quantitative"}}},
{"mark":{"type":"tick","size":164},"encoding":{"y":{"field":"hi","type":"quantitative"}}},
{"mark":{"type":"tick","size":328},"encoding":{"y":{"field":"med","type":"quantitative"}}},
{"data":{"name":"o"},"transform":[{"filter":"datum.v==='EDGE_COUNT'"}],"mark":"point","encoding":{"y":{"field":"o","type":"quantitative"}}}]},
{"title":"Boxplot of ESSENTIAL_COMPLEXITY","width":410,"height":453,"data":{"name":"s"},"transform":[{"filter":"datum.v==='ESSENTIAL_COMPLEXITY'"}],"encoding":{"x":{"field":"v","type":"nominal","title":null,"axis":{"labels":false,"bandPosition":0.5}}},"layer":[
{"mark":"rule","encoding":{"y":{"field":"lo","type":"quantitative","title":"ESSENTIAL_COMPLEXITY","scale":{"domain":[0.945,1.055],"nice":false,"zero":false},"axis":{"values":[0.96,0.98,1.0,1.02,1.04],"format":".2f"}},"y2":{"field":"hi"}}},
{"mark":{"type":"bar","width":{"band":0.8}},"encoding":{"y":{"field":"q1","type":"quantitative"},"y2":{"field":"q3"}}},
{"mark":{"type":"tick","size":164},"encoding":{"y":{"field":"lo","type":"quantitative"}}},
{"mark":{"type":"tick","size":164},"encoding":{"y":{"field":"hi","type":"quantitative"}}},
{"mark":{"type":"tick","size":328},"encoding":{"y":{"field":"med","type":"quantitative"}}}]},
{"title":"Boxplot of ESSENTIAL_DENSITY","width":410,"height":453,"data":{"name":"s"},"transform":[{"filter":"datum.v==='ESSENTIAL_DENSITY'"}],"encoding":{"x":{"field":"v","type":"nominal","title":null,"axis":{"labels":false,"bandPosition":0.5}}},"layer":[
{"mark":"rule","encoding":{"y":{"field":"lo","type":"quantitative","title":"ESSENTIAL_DENSITY","scale":{"domain":[-0.055,0.055],"nice":false,"zero":false},"axis":{"values":[-0.04,-0.02,0,0.02,0.04],"format":".2f"}},"y2":{"field":"hi"}}},
{"mark":{"type":"bar","width":{"band":0.8}},"encoding":{"y":{"field":"q1","type":"quantitative"},"y2":{"field":"q3"}}},
{"mark":{"type":"tick","size":164},"encoding":{"y":{"field":"lo","type":"quantitative"}}},
{"mark":{"type":"tick","size":164},"encoding":{"y":{"field":"hi","type":"quantitative"}}},
{"mark":{"type":"tick","size":328},"encoding":{"y":{"field":"med","type":"quantitative"}}}]},
{"title":"Boxplot of LOC_EXECUTABLE","width":410,"height":453,"data":{"name":"s"},"transform":[{"filter":"datum.v==='LOC_EXECUTABLE'"}],"encoding":{"x":{"field":"v","type":"nominal","title":null,"axis":{"labels":false,"bandPosition":0.5}}},"layer":[
{"mark":"rule","encoding":{"y":{"field":"lo","type":"quantitative","title":"LOC_EXECUTABLE","scale":{"domain":[-0.1,46.1],"nice":false,"zero":false},"axis":{"values":[0,10,20,30,40],"format":"d"}},"y2":{"field":"hi"}}},
{"mark":{"type":"bar","width":{"band":0.8}},"encoding":{"y":{"field":"q1","type":"quantitative"},"y2":{"field":"q3"}}},
{"mark":{"type":"tick","size":164},"encoding":{"y":{"field":"lo","type":"quantitative"}}},
{"mark":{"type":"tick","size":164},"encoding":{"y":{"field":"hi","type":"quantitative"}}},
{"mark":{"type":"tick","size":328},"encoding":{"y":{"field":"med","type":"quantitative"}}},
{"data":{"name":"o"},"transform":[{"filter":"datum.v==='LOC_EXECUTABLE'"}],"mark":"point","encoding":{"y":{"field":"o","type":"quantitative"}}}]},
{"title":"Boxplot of PARAMETER_COUNT","width":410,"height":453,"data":{"name":"s"},"transform":[{"filter":"datum.v==='PARAMETER_COUNT'"}],"encoding":{"x":{"field":"v","type":"nominal","title":null,"axis":{"labels":false,"bandPosition":0.5}}},"layer":[
{"mark":"rule","encoding":{"y":{"field":"lo","type":"quantitative","title":"PARAMETER_COUNT","scale":{"domain":[-0.1,2.1],"nice":false,"zero":false},"axis":{"values":[0,0.25,0.5,0.75,1,1.25,1.5,1.75,2],"format":".2f"}},"y2":{"field":"hi"}}},
{"mark":{"type":"bar","width":{"band":0.8}},"encoding":{"y":{"field":"q1","type":"quantitative"},"y2":{"field":"q3"}}},
{"mark":{"type":"tick","size":164},"encoding":{"y":{"field":"lo","type":"quantitative"}}},
{"mark":{"type":"tick","size":164},"encoding":{"y":{"field":"hi","type":"quantitative"}}},
{"mark":{"type":"tick","size":328},"encoding":{"y":{"field":"med","type":"quantitative"}}}]},
{"title":"Boxplot of HALSTEAD_CONTENT","width":410,"height":453,"data":{"name":"s"},"transform":[{"filter":"datum.v==='HALSTEAD_CONTENT'"}],"encoding":{"x":{"field":"v","type":"nominal","title":null,"axis":{"labels":false,"bandPosition":0.5}}},"layer":[
{"mark":"rule","encoding":{"y":{"field":"lo","type":"quantitative","title":"HALSTEAD_CONTENT","scale":{"domain":[-2.64,55.44],"nice":false,"zero":false},"axis":{"values":[0,10,20,30,40,50],"format":"d"}},"y2":{"field":"hi"}}},
{"mark":{"type":"bar","width":{"band":0.8}},"encoding":{"y":{"field":"q1","type":"quantitative"},"y2":{"field":"q3"}}},
{"mark":{"type":"tick","size":164},"encoding":{"y":{"field":"lo","type":"quantitative"}}},
{"mark":{"type":"tick","size":164},"encoding":{"y":{"field":"hi","type":"quantitative"}}},
{"mark":{"type":"tick","size":328},"encoding":{"y":{"field":"med","type":"quantitative"}}},
{"data":{"name":"o"},"transform":[{"filter":"datum.v==='HALSTEAD_CONTENT'"}],"mark":"point","encoding":{"y":{"field":"o","type":"quantitative"}}}]},
{"title":"Boxplot of HALSTEAD_DIFFICULTY","width":410,"height":453,"data":{"name":"s"},"transform":[{"filter":"datum.v==='HALSTEAD_DIFFICULTY'"}],"encoding":{"x":{"field":"v","type":"nominal","title":null,"axis":{"labels":false,"bandPosition":0.5}}},"layer":[
{"mark":"rule","encoding":{"y":{"field":"lo","type":"quantitative","title":"HALSTEAD_DIFFICULTY","scale":{"domain":[-2.25,47.25],"nice":false,"zero":false},"axis":{"values":[0,10,20,30,40],"format":"d"}},"y2":{"field":"hi"}}},
{"mark":{"type":"bar","width":{"band":0.8}},"encoding":{"y":{"field":"q1","type":"quantitative"},"y2":{"field":"q3"}}},
{"mark":{"type":"tick","size":164},"encoding":{"y":{"field":"lo","type":"quantitative"}}},
{"mark":{"type":"tick","size":164},"encoding":{"y":{"field":"hi","type":"quantitative"}}},
{"mark":{"type":"tick","size":328},"encoding":{"y":{"field":"med","type":"quantitative"}}},
{"data":{"name":"o"},"transform":[{"filter":"datum.v==='HALSTEAD_DIFFICULTY'"}],"mark":"point","encoding":{"y":{"field":"o","type":"quantitative"}}}]},
{"title":"Boxplot of HALSTEAD_EFFORT","width":410,"height":453,"data":{"name":"s"},"transform":[{"filter":"datum.v==='HALSTEAD_EFFORT'"}],"encoding":{"x":{"field":"v","type":"nominal","title":null,"axis":{"labels":false,"bandPosition":0.5}}},"layer":[
{"mark":"rule","encoding":{"y":{"field":"lo","type":"quantitative","title":"HALSTEAD_EFFORT","scale":{"domain":[-1545,32445],"nice":false,"zero":false},"axis":{"values":[0,5000,10000,15000,20000,25000,30000],"format":"d"}},"y2":{"field":"hi"}}},
{"mark":{"type":"bar","width":{"band":0.8}},"encoding":{"y":{"field":"q1","type":"quantitative"},"y2":{"field":"q3"}}},
{"mark":{"type":"tick","size":164},"encoding":{"y":{"field":"lo","type":"quantitative"}}},
{"mark":{"type":"tick","size":164},"encoding":{"y":{"field":"hi","type":"quantitative"}}},
{"mark":{"type":"tick","size":328},"encoding":{"y":{"field":"med","type":"quantitative"}}},
{"data":{"name":"o"},"transform":[{"filter":"datum.v==='HALSTEAD_EFFORT'"}],"mark":"point","encoding":{"y":{"field":"o","type":"quantitative"}}}]},
{"title":"Boxplot of HALSTEAD_ERROR_EST","width":410,"height":453,"data":{"name":"s"},"transform":[{"filter":"datum.v==='HALSTEAD_ERROR_EST'"}],"encoding":{"x":{"field":"v","type":"nominal","title":null,"axis":{"labels":false,"bandPosition":0.5}}},"layer":[
{"mark":"rule","encoding":{"y":{"field":"lo","type":"quantitative","title":"HALSTEAD_ERROR_EST","scale":{"domain":[-0.0175,0.3675],"nice":false,"zero":false},"axis":{"values":[0,0.05,0.1,0.15,0.2,0.25,0.3,0.35],"format":".2f"}},"y2":{"field":"hi"}}},
{"mark":{"type":"bar","width":{"band":0.8}},"encoding":{"y":{"field":"q1","type":"quantitative"},"y2":{"field":"q3"}}},
{"mark":{"type":"tick","size":164},"encoding":{"y":{"field":"lo","type":"quantitative"}}},
{"mark":{"type":"tick","size":164},"encoding":{"y":{"field":"hi","type":"quantitative"}}},
{"mark":{"type":"tick","size":328},"encoding":{"y":{"field":"med","type":"quantitative"}}},
{"data":{"name":"o"},"transform":[{"filter":"datum.v==='HALSTEAD_ERROR_EST'"}],"mark":"point","encoding":{"y":{"field":"o","type":"quantitative"}}}]},
{"title":"Boxplot of HALSTEAD_LENGTH","width":410,"height":453,"data":{"name":"s"},"transform":[{"filter":"datum.v==='HALSTEAD_LENGTH'"}],"encoding":{"x":{"field":"v","type":"nominal","title":null,"axis":{"labels":false,"bandPosition":0.5}}},"layer":[
{"mark":"rule","encoding":{"y":{"field":"lo","type":"quantitative","title":"HALSTEAD_LENGTH","scale":{"domain":[-7.15,216.15],"nice":false,"zero":false},"axis":{"values":[0,25,50,75,100,125,150,175,200],"format":"d"}},"y2":{"field":"hi"}}},
{"mark":{"type":"bar","width":{"band":0.8}},"encoding":{"y":{"field":"q1","type":"quantitative"},"y2":{"field":"q3"}}},
{"mark":{"type":"tick","size":164},"encoding":{"y":{"field":"lo","type":"quantitative"}}},
{"mark":{"type":"tick","size":164},"encoding":{"y":{"field":"hi","type":"quantitative"}}},
{"mark":{"type":"tick","size":328},"encoding":{"y":{"field":"med","type":"quantitative"}}},
{"data":{"name":"o"},"transform":[{"filter":"datum.v==='HALSTEAD_LENGTH'"}],"mark":"point","encoding":{"y":{"field":"o","type":"quantitative"}}}]},
{"title":"Boxplot of HALSTEAD_LEVEL","width":410,"height":453,"data":{"name":"s"},"transform":[{"filter":"datum.v==='HALSTEAD_LEVEL'"}],"encoding":{"x":{"field":"v","type":"nominal","title":null,"axis":{"labels":false,"bandPosition":0.5}}},"layer":[
{"mark":"rule","encoding":{"y":{"field":"lo","type":"quantitative","title":"HALSTEAD_LEVEL","scale":{"domain":[-0.013,0.273],"nice":false,"zero":false},"axis":{"values":[0,0.05,0.1,0.15,0.2,0.25],"format":".2f"}},"y2":{"field":"hi"}}},
{"mark":{"type":"bar","width":{"band":0.8}},"encoding":{"y":{"field":"q1","type":"quantitative"},"y2":{"field":"q3"}}},
{"mark":{"type":"tick","size":164},"encoding":{"y":{"field":"lo","type":"quantitative"}}},
{"mark":{"type":"tick","size":164},"encoding":{"y":{"field":"hi","type":"quantitative"}}},
{"mark":{"type":"tick","size":328},"encoding":{"y":{"field":"med","type":"quantitative"}}}]},
{"title":"Boxplot of HALSTEAD_PROG_TIME","width":410,"height":453,"data":{"name":"s"},"transform":[{"filter":"datum.v==='HALSTEAD_PROG_TIME'"}],"encoding":{"x":{"field":"v","type":"nominal","title":null,"axis":{"labels":false,"bandPosition":0.5}}},"layer":[
{"mark":"rule","encoding":{"y":{"field":"lo","type":"quantitative","title":"HALSTEAD_PROG_TIME","scale":{"domain":[-86,1806],"nice":false,"zero":false},"axis":{"values":[0,250,500,750,1000,1250,1500,1750],"format":"d"}},"y2":{"field":"hi"}}},
{"mark":{"type":"bar","width":{"band":0.8}},"encoding":{"y":{"field":"q1","type":"quantitative"},"y2":{"field":"q3"}}},
{"mark":{"type":"tick","size":164},"encoding":{"y":{"field":"lo","type":"quantitative"}}},
{"mark":{"type":"tick","size":164},"encoding":{"y":{"field":"hi","type":"quantitative"}}},
{"mark":{"type":"tick","size":328},"encoding":{"y":{"field":"med","type":"quantitative"}}},
{"data":{"name":"o"},"transform":[{"filter":"datum.v==='HALSTEAD_PROG_TIME'"}],"mark":"point","encoding":{"y":{"field":"o","type":"quantitative"}}}]},
{"title":"Boxplot of HALSTEAD_VOLUME","width":410,"height":453,"data":{"name":"s"},"transform":[{"filter":"datum.v==='HALSTEAD_VOLUME'"}],"encoding":{"x":{"field":"v","type":"nominal","title":null,"axis":{"labels":false,"bandPosition":0.5}}},"layer":[
{"mark":"rule","encoding":{"y":{"field":"lo","type":"quantitative","title":"HALSTEAD_VOLUME","scale":{"domain":[-47.05,1098.05],"nice":false,"zero":false},"axis":{"values":[0,200,400,600,800,1000],"format":"d"}},"y2":{"field":"hi"}}},
{"mark":{"type":"bar","width":{"band":0.8}},"encoding":{"y":{"field":"q1","type":"quantitative"},"y2":{"field":"q3"}}},
{"mark":{"type":"tick","size":164},"encoding":{"y":{"field":"lo","type":"quantitative"}}},
{"mark":{"type":"tick","size":164},"encoding":{"y":{"field":"hi","type":"quantitative"}}},
{"mark":{"type":"tick","size":328},"encoding":{"y":{"field":"med","type":"quantitative"}}},
{"data":{"name":"o"},"transform":[{"filter":"datum.v==='HALSTEAD_VOLUME'"}],"mark":"point","encoding":{"y":{"field":"o","type":"quantitative"}}}]},
{"title":"Boxplot of MAINTENANCE_SEVERITY","width":410,"height":453,"data":{"name":"s"},"transform":[{"filter":"datum.v==='MAINTENANCE_SEVERITY'"}],"encoding":{"x":{"field":"v","type":"nominal","title":null,"axis":{"labels":false,"bandPosition":0.5}}},"layer":[
{"mark":"rule","encoding":{"y":{"field":"lo","type":"quantitative","title":"MAINTENANCE_SEVERITY","scale":{"domain":[0.055,1.045],"nice":false,"zero":false},"axis":{"values":[0.2,0.4,0.6,0.8,1.0],"format":".1f"}},"y2":{"field":"hi"}}},
{"mark":{"type":"bar","width":{"band":0.8}},"encoding":{"y":{"field":"q1","type":"quantitative"},"y2":{"field":"q3"}}},
{"mark":{"type":"tick","size":164},"encoding":{"y":{"field":"lo","type":"quantitative"}}},
{"mark":{"type":"tick","size":164},"encoding":{"y":{"field":"hi","type":"quantitative"}}},
{"mark":{"type":"tick","size":328},"encoding":{"y":{"field":"med","type":"quantitative"}}}]},
{"title":"Boxplot of MODIFIED_CONDITION_COUNT","width":410,"height":453,"data":{"name":"s"},"transform":[{"filter":"datum.v==='MODIFIED_CONDITION_COUNT'"}],"encoding":{"x":{"field":"v","type":"nominal","title":null,"axis":{"labels":false,"bandPosition":0.5}}},"layer":[
{"mark":"rule","encoding":{"y":{"field":"lo","type":"quantitative","title":"MODIFIED_CONDITION_COUNT","scale":{"domain":[-0.25,5.25],"nice":false,"zero":false},"axis":{"values":[0,1,2,3,4,5],"format":"d"}},"y2":{"field":"hi"}}},
{"mark":{"type":"bar","width":{"band":0.8}},"encoding":{"y":{"field":"q1","type":"quantitative"},"y2":{"field":"q3"}}},
{"mark":{"type":"tick","size":164},"encoding":{"y":{"field":"lo","type":"quantitative"}}},
{"mark":{"type":"tick","size":164},"encoding":{"y":{"field":"hi","type":"quantitative"}}},
{"mark":{"type":"tick","size":328},"encoding":{"y":{"field":"med","type":"quantitative"}}},
{"data":{"name":"o"},"transform":[{"filter":"datum.v==='MODIFIED_CONDITION_COUNT'"}],"mark":"point","encoding":{"y":{"field":"o","type":"quantitative"}}}]},
{"title":"Boxplot of MULTIPLE_CONDITION_COUNT","width":410,"height":453,"data":{"name":"s"},"transform":[{"filter":"datum.v==='MULTIPLE_CONDITION_COUNT'"}],"encoding":{"x":{"field":"v","type":"nominal","title":null,"axis":{"labels":false,"bandPosition":0.5}}},"layer":[
{"mark":"rule","encoding":{"y":{"field":"lo","type":"quantitative","title":"MULTIPLE_CONDITION_COUNT","scale":{"domain":[-0.5,10.5],"nice":false,"zero":false},"axis":{"values":[0,2,4,6,8,10],"format":"d"}},"y2":{"field":"hi"}}},
{"mark":{"type":"bar","width":{"band":0.8}},"encoding":{"y":{"field":"q1","type":"quantitative"},"y2":{"field":"q3"}}},
{"mark":{"type":"tick","size":164},"encoding":{"y":{"field":"lo","type":"quantitative"}}},
{"mark":{"type":"tick","size":164},"encoding":{"y":{"field":"hi","type":"quantitative"}}},
{"mark":{"type":"tick","size":328},"encoding":{"y":{"field":"med","type":"quantitative"}}},
{"data":{"name":"o"},"transform":[{"filter":"datum.v==='MULTIPLE_CONDITION_COUNT'"}],"mark":"point","encoding":{"y":{"field":"o","type":"quantitative"}}}]},
{"title":"Boxplot of NODE_COUNT","width":410,"height":453,"data":{"name":"s"},"transform":[{"filter":"datum.v==='NODE_COUNT'"}],"encoding":{"x":{"field":"v","type":"nominal","title":null,"axis":{"labels":false,"bandPosition":0.5}}},"layer":[
{"mark":"rule","encoding":{"y":{"field":"lo","type":"quantitative","title":"NODE_COUNT","scale":{"domain":[0.55,32.45],"nice":false,"zero":false},"axis":{"values":[5,10,15,20,25,30],"format":"d"}},"y2":{"field":"hi"}}},
{"mark":{"type":"bar","width":{"band":0.8}},"encoding":{"y":{"field":"q1","type":"quantitative"},"y2":{"field":"q3"}}},
{"mark":{"type":"tick","size":164},"encoding":{"y":{"field":"lo","type":"quantitative"}}},
{"mark":{"type":"tick","size":164},"encoding":{"y":{"field":"hi","type":"quantitative"}}},
{"mark":{"type":"tick","size":328},"encoding":{"y":{"field":"med","type":"quantitative"}}},
{"data":{"name":"o"},"transform":[{"filter":"datum.v==='NODE_COUNT'"}],"mark":"point","encoding":{"y":{"field":"o","type":"quantitative"}}}]},
{"title":"Boxplot of NORMALIZED_CYLOMATIC_COMPLEXITY","width":410,"height":453,"data":{"name":"s"},"transform":[{"filter":"datum.v==='NORMALIZED_CYLOMATIC_COMPLEXITY'"}],"encoding":{"x":{"field":"v","type":"nominal","title":null,"axis":{"labels":false,"bandPosition":0.5}}},"layer":[
{"mark":"rule","encoding":{"y":{"field":"lo","type":"quantitative","title":"NORMALIZED_CYLOMATIC_COMPLEXITY","scale":{"domain":[-0.0085,0.3985],"nice":false,"zero":false},"axis":{"values":[0,0.05,0.1,0.15,0.2,0.25,0.3,0.35],"format":".2f"}},"y2":{"field":"hi"}}},
{"mark":{"type":"bar","width":{"band":0.8}},"encoding":{"y":{"field":"q1","type":"quantitative"},"y2":{"field":"q3"}}},
{"mark":{"type":"tick","size":164},"encoding":{"y":{"field":"lo","type":"quantitative"}}},
{"mark":{"type":"tick","size":164},"encoding":{"y":{"field":"hi","type":"quantitative"}}},
{"mark":{"type":"tick","size":328},"encoding":{"y":{"field":"med","type":"quantitative"}}}]},
{"title":"Boxplot of NUM_OPERANDS","width":410,"height":453,"data":{"name":"s"},"transform":[{"filter":"datum.v==='NUM_OPERANDS'"}],"encoding":{"x":{"field":"v","type":"nominal","title":null,"axis":{"labels":false,"bandPosition":0.5}}},"layer":[
{"mark":"rule","encoding":{"y":{"field":"lo","type":"quantitative","title":"NUM_OPERANDS","scale":{"domain":[-4.15,87.15],"nice":false,"zero":false},"axis":{"values":[0,20,40,60,80],"format":"d"}},"y2":{"field":"hi"}}},
{"mark":{"type":"bar","width":{"band":0.8}},"encoding":{"y":{"field":"q1","type":"quantitative"},"y2":{"field":"q3"}}},
{"mark":{"type":"tick","size":164},"encoding":{"y":{"field":"lo","type":"quantitative"}}},
{"mark":{"type":"tick","size":164},"encoding":{"y":{"field":"hi","type":"quantitative"}}},
{"mark":{"type":"tick","size":328},"encoding":{"y":{"field":"med","type":"quantitative"}}},
{"data":{"name":"o"},"transform":[{"filter":"datum.v==='NUM_OPERANDS'"}],"mark":"point","encoding":{"y":{"field":"o","type":"quantitative"}}}]},
{"title":"Boxplot of NUM_OPERATORS","width":410,"height":453,"data":{"name":"s"},"transform":[{"filter":"datum.v==='NUM_OPERATORS'"}],"encoding":{"x":{"field":"v","type":"nominal","title":null,"axis":{"labels":false,"bandPosition":0.5}}},"layer":[
{"mark":"rule","encoding":{"y":{"field":"lo","type":"quantitative","title":"NUM_OPERATORS","scale":{"domain":[-3.75,144.75],"nice":false,"zero":false},"axis":{"values":[0,20,40,60,80,100,120,140],"format":"d"}},"y2":{"field":"hi"}}},
{"mark":{"type":"bar","width":{"band":0.8}},"encoding":{"y":{"field":"q1","type":"quantitative"},"y2":{"field":"q3"}}},
{"mark":{"type":"tick","size":164},"encoding":{"y":{"field":"lo","type":"quantitative"}}},
{"mark":{"type":"tick","size":164},"encoding":{"y":{"field":"hi","type":"quantitative"}}},
{"mark":{"type":"tick","size":328},"encoding":{"y":{"field":"med","type":"quantitative"}}},
{"data":{"name":"o"},"transform":[{"filter":"datum.v==='NUM_OPERATORS'"}],"mark":"point","encoding":{"y":{"field":"o","type":"quantitative"}}}]},
{"title":"Boxplot of NUM_UNIQUE_OPERANDS","width":410,"height":453,"data":{"name":"s"},"transform":[{"filter":"datum.v==='NUM_UNIQUE_OPERANDS'"}],"encoding":{"x":{"field":"v","type":"nominal","title":null,"axis":{"labels":false,"bandPosition":0.5}}},"layer":[
{"mark":"rule","encoding":{"y":{"field":"lo","type":"quantitative","title":"NUM_UNIQUE_OPERANDS","scale":{"domain":[-1.35,28.35],"nice":false,"zero":false},"axis":{"values":[0,5,10,15,20,25],"format":"d"}},"y2":{"field":"hi"}}},
{"mark":{"type":"bar","width":{"band":0.8}},"encoding":{"y":{"field":"q1","type":"quantitative"},"y2":{"field":"q3"}}},
{"mark":{"type":"tick","size":164},"encoding":{"y":{"field":"lo","type":"quantitative"}}},
{"mark":{"type":"tick","size":164},"encoding":{"y":{"field":"hi","type":"quantitative"}}},
{"mark":{"type":"tick","size":328},"encoding":{"y":{"field":"med","type":"quantitative"}}},
{"data":{"name":"o"},"transform":[{"filter":"datum.v==='NUM_UNIQUE_OPERANDS'"}],"mark":"point","encoding":{"y":{"field":"o","type":"quantitative"}}}]},
{"title":"Boxplot of NUM_UNIQUE_OPERATORS","width":410,"height":453,"data":{"name":"s"},"transform":[{"filter":"datum.v==='NUM_UNIQUE_OPERATORS'"}],"encoding":{"x":{"field":"v","type":"nominal","title":null,"axis":{"labels":false,"bandPosition":0.5}}},"layer":[
{"mark":"rule","encoding":{"y":{"field":"lo","type":"quantitative","title":"NUM_UNIQUE_OPERATORS","scale":{"domain":[1.85,27.15],"nice":false,"zero":false},"axis":{"values":[5,10,15,20,25],"format":"d"}},"y2":{"field":"hi"}}},
{"mark":{"type":"bar","width":{"band":0.8}},"encoding":{"y":{"field":"q1","type":"quantitative"},"y2":{"field":"q3"}}},
{"mark":{"type":"tick","size":164},"encoding":{"y":{"field":"lo","type":"quantitative"}}},
{"mark":{"type":"tick","size":164},"encoding":{"y":{"field":"hi","type":"quantitative"}}},
{"mark":{"type":"tick","size":328},"encoding":{"y":{"field":"med","type":"quantitative"}}},
{"data":{"name":"o"},"transform":[{"filter":"datum.v==='NUM_UNIQUE_OPERATORS'"}],"mark":"point","encoding":{"y":{"field":"o","type":"quantitative"}}}]},
{"title":"Boxplot of NUMBER_OF_LINES","width":410,"height":453,"data":{"name":"s"},"transform":[{"filter":"datum.v==='NUMBER_OF_LINES'"}],"encoding":{"x":{"field":"v","type":"nominal","title":null,"axis":{"labels":false,"bandPosition":0.5}}},"layer":[
{"mark":"rule","encoding":{"y":{"field":"lo","type":"quantitative","title":"NUMBER_OF_LINES","scale":{"domain":[0.2,83.8],"nice":false,"zero":false},"axis":{"values":[10,20,30,40,50,60,70,80],"format":"d"}},"y2":{"field":"hi"}}},
{"mark":{"type":"bar","width":{"band":0.8}},"encoding":{"y":{"field":"q1","type":"quantitative"},"y2":{"field":"q3"}}},
{"mark":{"type":"tick","size":164},"encoding":{"y":{"field":"lo","type":"quantitative"}}},
{"mark":{"type":"tick","size":164},"encoding":{"y":{"field":"hi","type":"quantitative"}}},
{"mark":{"type":"tick","size":328},"encoding":{"y":{"field":"med","type":"quantitative"}}},
{"data":{"name":"o"},"transform":[{"filter":"datum.v==='NUMBER_OF_LINES'"}],"mark":"point","encoding":{"y":{"field":"o","type":"quantitative"}}}]},
{"title":"Boxplot of PERCENT_COMMENTS","width":410,"height":453,"data":{"name":"s"},"transform":[{"filter":"datum.v==='PERCENT_COMMENTS'"}],"encoding":{"x":{"field":"v","type":"nominal","title":null,"axis":{"labels":false,"bandPosition":0.5}}},"layer":[
{"mark":"rule","encoding":{"y":{"field":"lo","type":"quantitative","title":"PERCENT_COMMENTS","scale":{"domain":[-3.835,80.535],"nice":false,"zero":false},"axis":{"values":[0,10,20,30,40,50,60,70,80],"format":"d"}},"y2":{"field":"hi"}}},
{"mark":{"type":"bar","width":{"band":0.8}},"encoding":{"y":{"field":"q1","type":"quantitative"},"y2":{"field":"q3"}}},
{"mark":{"type":"tick","size":164},"encoding":{"y":{"field":"lo","type":"quantitative"}}},
{"mark":{"type":"tick","size":164},"encoding":{"y":{"field":"hi","type":"quantitative"}}},
{"mark":{"type":"tick","size":328},"encoding":{"y":{"field":"med","type":"quantitative"}}},
{"data":{"name":"o"},"transform":[{"filter":"datum.v==='PERCENT_COMMENTS'"}],"mark":"point","encoding":{"y":{"field":"o","type":"quantitative"}}}]},
{"title":"Boxplot of LOC_TOTAL","width":410,"height":453,"data":{"name":"s"},"transform":[{"filter":"datum.v==='LOC_TOTAL'"}],"encoding":{"x":{"field":"v","type":"nominal","title":null,"axis":{"labels":false,"bandPosition":0.5}}},"layer":[
{"mark":"rule","encoding":{"y":{"field":"lo","type":"quantitative","title":"LOC_TOTAL","scale":{"domain":[-0.15,47.15],"nice":false,"zero":false},"axis":{"values":[0,10,20,30,40],"format":"d"}},"y2":{"field":"hi"}}},
{"mark":{"type":"bar","width":{"band":0.8}},"encoding":{"y":{"field":"q1","type":"quantitative"},"y2":{"field":"q3"}}},
{"mark":{"type":"tick","size":164},"encoding":{"y":{"field":"lo","type":"quantitative"}}},
{"mark":{"type":"tick","size":164},"encoding":{"y":{"field":"hi","type":"quantitative"}}},
{"mark":{"type":"tick","size":328},"encoding":{"y":{"field":"med","type":"quantitative"}}},
{"data":{"name":"o"},"transform":[{"filter":"datum.v==='LOC_TOTAL'"}],"mark":"point","encoding":{"y":{"field":"o","type":"quantitative"}}}]}
]
}
